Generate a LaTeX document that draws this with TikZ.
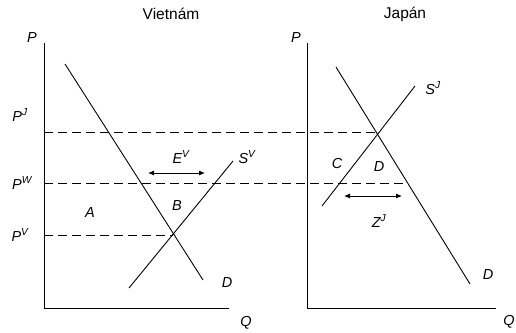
\documentclass[tikz,border=0pt]{standalone}
\usepackage{fontspec}
\setmainfont{Liberation Sans}
\usetikzlibrary{arrows.meta}
\newcommand{\supx}[1]{\textsuperscript{#1}}

\begin{document}
\begin{tikzpicture}[x=1pt,y=-1pt,
    lbl/.style={font=\fontsize{14.5}{17}\selectfont\itshape,inner sep=0pt},
    ttl/.style={font=\fontsize{15.5}{18}\selectfont,inner sep=0pt},
    curve/.style={line width=0.9pt},
    pline/.style={line width=0.9pt,dash pattern=on 9pt off 5pt},
    dbl/.style={line width=0.9pt,{Latex[length=6pt,width=5pt]}-{Latex[length=6pt,width=5pt]}}]
\useasboundingbox (0,0) rectangle (516,332);
% Vietnam
\coordinate (vo) at (44,308);
\coordinate (vt) at (44,43);
\coordinate (vq) at (229,308);
\coordinate (vd1) at (65,64);
\coordinate (vd2) at (203,280);
\coordinate (vs1) at (129,288);
\coordinate (vs2) at (233,161);
\coordinate (ve) at (173,235);
\coordinate (vj) at (44,132);
\coordinate (vw) at (44,183);
\coordinate (vv) at (44,235);
\coordinate (ea) at (148,173);
\coordinate (eb) at (205,173);
% Japan
\coordinate (jo) at (307,308);
\coordinate (jt) at (307,43);
\coordinate (jq) at (496,308);
\coordinate (jd1) at (336,67);
\coordinate (jd2) at (470,284);
\coordinate (js1) at (322,206);
\coordinate (js2) at (415,86);
\coordinate (je) at (378,132);
\coordinate (jw) at (403,183);
\coordinate (za) at (344,196);
\coordinate (zb) at (402,196);

\draw[curve] (vt) -- (vo) -- (vq);
\draw[curve] (jt) -- (jo) -- (jq);
\draw[curve] (vd1) -- (vd2);
\draw[curve] (vs1) -- (vs2);
\draw[curve] (jd1) -- (jd2);
\draw[curve] (js1) -- (js2);
\draw[pline] (vj) -- (je);
\draw[pline] (vw) -- (jw);
\draw[pline] (vv) -- (ve);
\draw[dbl] (ea) -- (eb);
\draw[dbl] (za) -- (zb);

\node[ttl] (t1) at (171,14) {Vietnám};
\node[ttl] (t2) at (405,14) {Japán};
\node[lbl] (p1) at (32,38) {P};
\node[lbl] (p2) at (296,38) {P};
\node[lbl] (pj) at (20,115) {P\supx{J}};
\node[lbl] (pw) at (22,183) {P\supx{W}};
\node[lbl] (pv) at (20,235) {P\supx{V}};
\node[lbl] (a) at (90,213) {A};
\node[lbl] (b) at (177,206) {B};
\node[lbl] (ev) at (181,157) {E\supx{V}};
\node[lbl] (sv) at (247,157) {S\supx{V}};
\node[lbl] (dv) at (227,283) {D};
\node[lbl] (q1) at (246,323) {Q};
\node[lbl] (c) at (337,164) {C};
\node[lbl] (d) at (379,167) {D};
\node[lbl] (zj) at (379,221) {Z\supx{J}};
\node[lbl] (sj) at (433,88) {S\supx{J}};
\node[lbl] (dj) at (488,275) {D};
\node[lbl] (q2) at (509,322) {Q};
\end{tikzpicture}
\end{document}
